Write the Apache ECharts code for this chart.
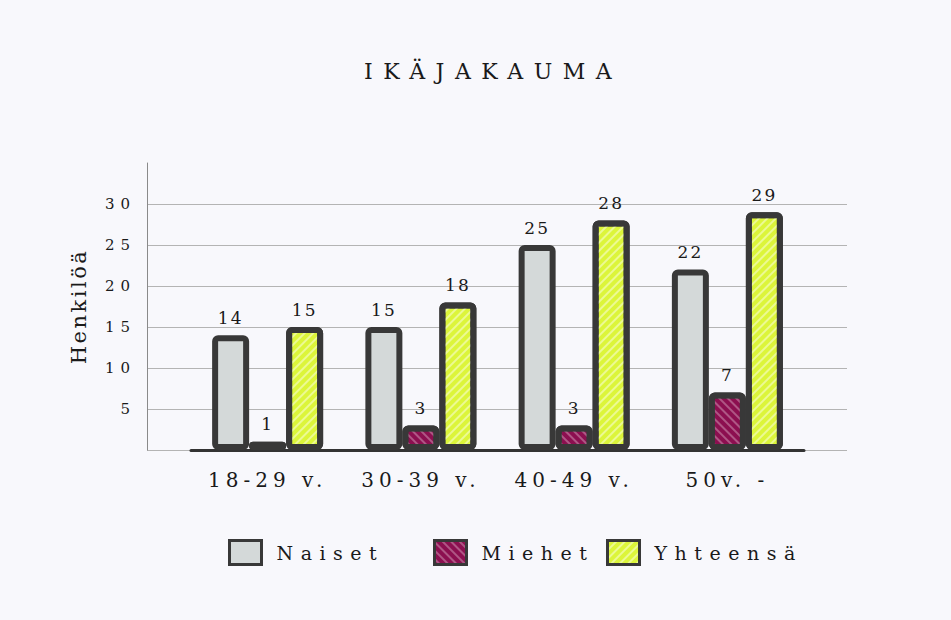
<!DOCTYPE html>
<html lang="fi">
<head>
    <meta charset="UTF-8">
    <title>Ikäjakauma</title>
    <script src="https://cdn.jsdelivr.net/npm/echarts@6/dist/echarts.min.js"></script>
    <style>
        body {
            margin: 0;
            padding: 0;
            background-color: #f8f8fc;
        }

        #chart {
            width: 951px;
            height: 620px;
        }

        /* letter spacing per text kind, marked through the font family name */
        #chart text[style*="fTitle"] { letter-spacing: 10.5px; }
        #chart text[style*="fAxis"] { letter-spacing: 6px; }
        #chart text[style*="fCat"] { letter-spacing: 5px; }
        #chart text[style*="fVal"] { letter-spacing: 2px; }
        #chart text[style*="fLeg"] { letter-spacing: 7.5px; }
        #chart text[style*="fName"] { letter-spacing: 2.5px; }
    </style>
</head>
<body>
    <div id="chart"></div>

    <script>
        var categories = ['18-29 v.', '30-39 v.', '40-49 v.', '50v. -'];
        var naiset = [14, 15, 25, 22];
        var miehet = [1, 3, 3, 7];
        var yhteensa = [15, 18, 28, 29];

        var serif = 'DejaVu Serif, serif';
        var border = '#383838';
        var ink = '#1a1a1a';

        function barSeries(name, data, color, decal) {
            var s = {
                name: name,
                type: 'bar',
                xAxisIndex: 1,
                yAxisIndex: 1,
                data: data,
                barWidth: 37,
                barGap: '0%',
                itemStyle: {
                    color: color,
                    borderColor: border,
                    borderWidth: 6,
                    borderRadius: 3
                },
                label: {
                    show: true,
                    position: 'top',
                    distance: 9,
                    color: ink,
                    fontSize: 17,
                    fontFamily: 'fVal, ' + serif
                }
            };
            if (decal) s.itemStyle.decal = decal;
            return s;
        }

        function legendAt(name, left) {
            return {
                data: [{ name: name, icon: 'rect' }],
                left: left,
                top: 539,
                padding: 0,
                itemWidth: 32,
                itemHeight: 24,
                itemGap: 0,
                selectedMode: false,
                itemStyle: { borderColor: border, borderWidth: 3 },
                textStyle: {
                    fontSize: 19,
                    color: ink,
                    fontFamily: 'fLeg, ' + serif,
                    padding: [0, 0, 0, 10]
                }
            };
        }

        var chart = echarts.init(document.getElementById('chart'), null, { renderer: 'svg' });

        var option = {
            backgroundColor: '#f8f8fc',
            animation: false,
            title: {
                text: 'IKÄJAKAUMA',
                left: 364,
                top: 60,
                padding: 0,
                textStyle: {
                    fontSize: 22,
                    fontWeight: 'normal',
                    color: ink,
                    fontFamily: 'fTitle, ' + serif
                }
            },
            legend: [
                legendAt('Naiset', 228),
                legendAt('Miehet', 433),
                legendAt('Yhteensä', 606)
            ],
            grid: [
                { left: 147, width: 700, top: 163, height: 287 },
                { left: 191, width: 613, top: 163, height: 287 }
            ],
            xAxis: [
                { gridIndex: 0, type: 'value', show: false, min: 0, max: 1 },
                {
                    gridIndex: 1,
                    type: 'category',
                    data: categories,
                    axisLine: { lineStyle: { color: '#333', width: 3 } },
                    axisTick: { show: false },
                    axisLabel: {
                        margin: 20,
                        fontSize: 20,
                        color: ink,
                        fontFamily: 'fCat, ' + serif
                    }
                }
            ],
            yAxis: [
                {
                    gridIndex: 0,
                    type: 'value',
                    min: 0,
                    max: 35,
                    interval: 5,
                    name: 'Henkilöä',
                    nameLocation: 'middle',
                    nameGap: 58,
                    nameTextStyle: {
                        fontSize: 21,
                        color: ink,
                        fontFamily: 'fName, ' + serif
                    },
                    axisLine: { show: true, lineStyle: { color: '#8a8a8a', width: 1 } },
                    axisTick: { show: false },
                    axisLabel: {
                        showMinLabel: false,
                        showMaxLabel: false,
                        margin: 11,
                        fontSize: 15,
                        color: ink,
                        fontFamily: 'fAxis, ' + serif
                    },
                    splitLine: {
                        showMaxLine: false,
                        lineStyle: { color: '#b4b4b4', width: 1 }
                    }
                },
                { gridIndex: 1, type: 'value', min: 0, max: 35, show: false }
            ],
            series: [
                barSeries('Naiset', naiset, '#d4d9d9'),
                barSeries('Miehet', miehet, '#8c0f50', {
                    symbol: 'rect',
                    symbolSize: 1,
                    color: 'rgba(255,255,255,0.3)',
                    dashArrayX: [1, 0],
                    dashArrayY: [2, 4],
                    rotation: Math.PI / 4
                }),
                barSeries('Yhteensä', yhteensa, '#dcf53a', {
                    symbol: 'rect',
                    symbolSize: 1,
                    color: 'rgba(255,255,255,0.45)',
                    dashArrayX: [1, 0],
                    dashArrayY: [2, 4],
                    rotation: -Math.PI / 4
                })
            ]
        };

        chart.setOption(option);
    </script>
</body>
</html>
